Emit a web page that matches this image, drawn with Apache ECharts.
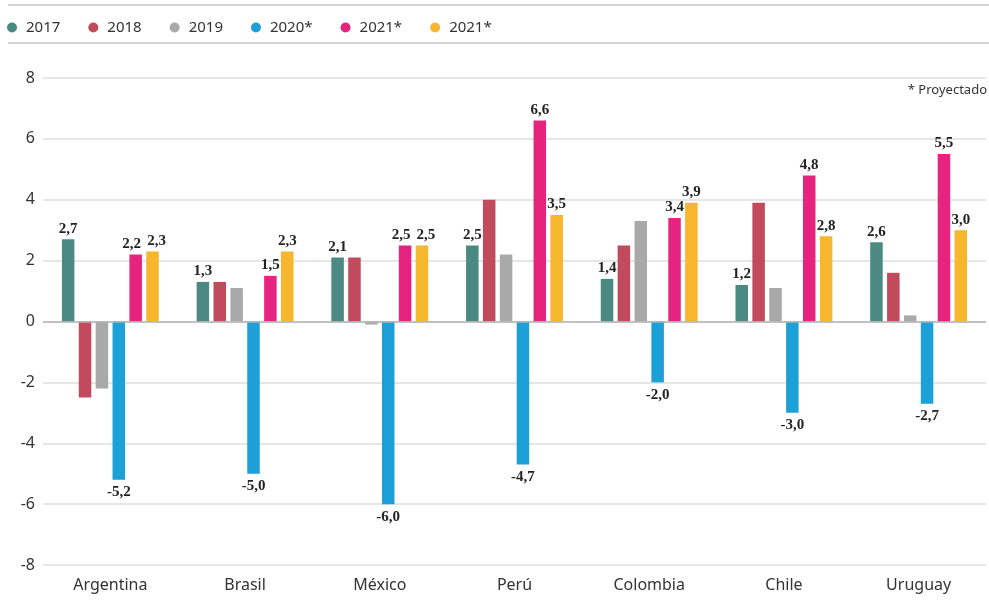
<!DOCTYPE html>
<html>
<head>
<meta charset="utf-8">
<script src="https://cdn.jsdelivr.net/npm/echarts@6/dist/echarts.min.js"></script>
<style>
html,body{margin:0;padding:0;background:#fff;}
#chart{width:989px;height:615px;}
</style>
</head>
<body>
<div id="chart"></div>
<script>
var categories = ['Argentina', 'Brasil', 'México', 'Perú', 'Colombia', 'Chile', 'Uruguay'];
var seriesNames = ['2017', '2018', '2019', '2020*', '2021*', '2021* '];
var legendLabels = ['2017', '2018', '2019', '2020*', '2021*', '2021*'];
var v2017 = [2.7, 1.3, 2.1, 2.5, 1.4, 1.2, 2.6];
var v2018 = [-2.5, 1.3, 2.1, 4.0, 2.5, 3.9, 1.6];
var v2019 = [-2.2, 1.1, -0.1, 2.2, 3.3, 1.1, 0.2];
var v2020 = [-5.2, -5.0, -6.0, -4.7, -2.0, -3.0, -2.7];
var v2021a = [2.2, 1.5, 2.5, 6.6, 3.4, 4.8, 5.5];
var v2021b = [2.3, 2.3, 2.5, 3.5, 3.9, 2.8, 3.0];
var showLabels = [true, false, false, true, true, true];
var yTicks = [-8, -6, -4, -2, 0, 2, 4, 6, 8];
var colors = ['#4a8a82', '#c14a5c', '#a9a9a9', '#1ca0d7', '#e6247f', '#f6b62d'];
var allValues = [v2017, v2018, v2019, v2020, v2021a, v2021b];

function labelOffset(i, j) {
  // push apart the two adjacent 2021 labels when their values are nearly equal
  if ((i === 4 || i === 5) && Math.abs(v2021a[j] - v2021b[j]) < 0.3) {
    return [i === 4 ? -4 : 4, 0];
  }
  return [0, 0];
}

var series = allValues.map(function (vals, i) {
  return {
    name: seriesNames[i],
    type: 'bar',
    barWidth: 12.5,
    barGap: '35%',
    itemStyle: { color: colors[i] },
    data: vals.map(function (v, j) {
      return {
        value: v,
        label: {
          show: showLabels[i],
          position: v < 0 ? 'bottom' : 'top',
          distance: v < 0 ? 5 : 3,
          offset: labelOffset(i, j)
        }
      };
    }),
    label: {
      fontFamily: 'Liberation Serif',
      fontWeight: 'bold',
      fontSize: 15,
      color: '#222',
      formatter: function (p) { return p.value.toFixed(1).replace('.', ','); }
    },
    markLine: i === 0 ? {
      silent: true,
      symbol: 'none',
      label: { show: false },
      lineStyle: { color: '#b5b5b5', width: 1.5, type: 'solid' },
      data: [{ yAxis: 0 }]
    } : undefined
  };
});

var chart = echarts.init(document.getElementById('chart'));
chart.setOption({
  animation: false,
  color: colors,
  legend: {
    left: 2,
    top: 15,
    icon: 'circle',
    itemWidth: 18,
    itemHeight: 10,
    itemGap: 28,
    textStyle: { fontFamily: 'Noto Sans', fontSize: 15, color: '#333' },
    formatter: function (name) { return legendLabels[seriesNames.indexOf(name)]; },
    data: seriesNames
  },
  grid: { left: 43, right: 3, top: 78, bottom: 50 },
  xAxis: {
    type: 'category',
    data: categories,
    axisLine: { show: false, onZero: false },
    axisTick: { show: false },
    axisLabel: { fontFamily: 'Noto Sans', fontSize: 16, color: '#333', margin: 12 }
  },
  yAxis: {
    type: 'value',
    min: yTicks[0],
    max: yTicks[yTicks.length - 1],
    interval: 2,
    axisLine: { show: false },
    axisTick: { show: false },
    axisLabel: { fontFamily: 'Noto Sans', fontSize: 16, color: '#333', margin: 8 },
    splitLine: { lineStyle: { color: '#dedede', width: 1.5 } }
  },
  graphic: [
    { type: 'line', shape: { x1: 8, y1: 5, x2: 989, y2: 5 }, style: { stroke: '#c4c4c4', lineWidth: 1.5 } },
    { type: 'line', shape: { x1: 8, y1: 43, x2: 989, y2: 43 }, style: { stroke: '#c4c4c4', lineWidth: 1.5 } },
    { type: 'text', right: 2, top: 84, style: { text: '* Proyectado', font: '13px "Noto Sans"', fill: '#333' } }
  ],
  series: series
});
</script>
</body>
</html>
